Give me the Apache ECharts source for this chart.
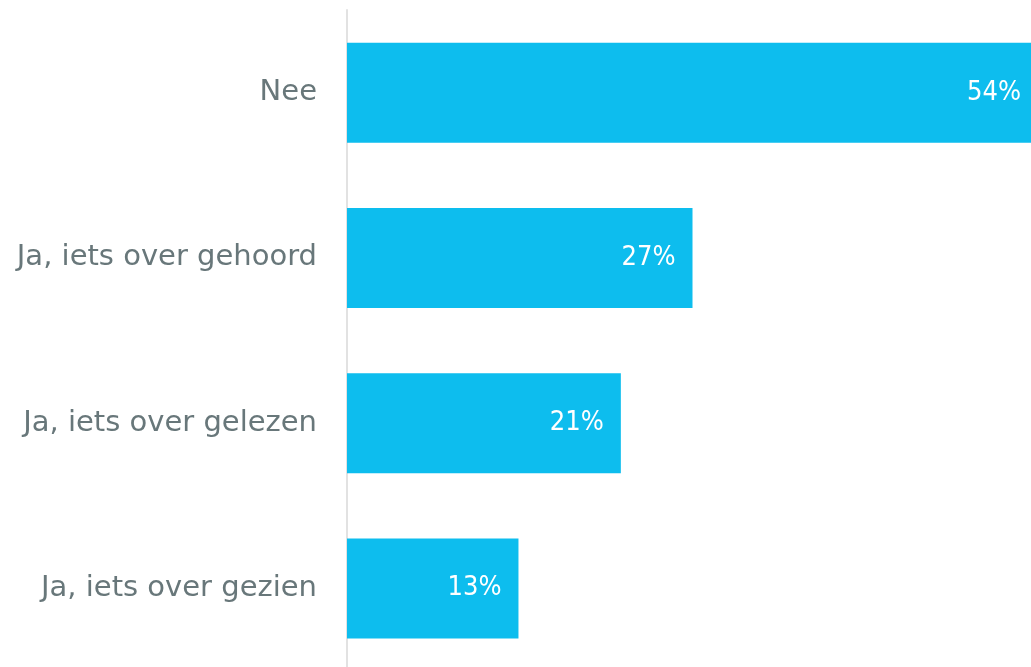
<!DOCTYPE html>
<html>
<head>
<meta charset="utf-8">
<script src="https://cdn.jsdelivr.net/npm/echarts@6/dist/echarts.min.js"></script>
<style>
html,body{margin:0;padding:0;background:#fff;overflow:hidden;}
#c{width:1038px;height:671px;}
</style>
</head>
<body>
<div id="c"></div>
<script>
const categories = ["Nee", "Ja, iets over gehoord", "Ja, iets over gelezen", "Ja, iets over gezien"];
const values = [54, 27, 21.4, 13.4];

const chart = echarts.init(document.getElementById('c'));
chart.setOption({
  animation: false,
  grid: { left: 347, right: 0, top: 10, bottom: 0 },
  xAxis: {
    type: 'value', min: 0, max: 54,
    show: false
  },
  yAxis: {
    type: 'category', data: categories, inverse: true,
    axisLine: { show: true, lineStyle: { color: '#e2e2e2', width: 2 } },
    axisTick: { show: false },
    axisLabel: { fontFamily: 'DejaVu Sans', fontSize: 29, color: '#68777a', margin: 30 }
  },
  series: [{
    type: 'bar', data: values, barWidth: 100,
    itemStyle: { color: '#0dbdee' },
    label: {
      show: true, position: 'insideRight', distance: 17,
      fontFamily: '"DejaVu Sans Condensed", sans-serif', fontSize: 27, color: '#ffffff',
      formatter: p => Math.round(p.value) + '%'
    }
  }]
});
</script>
</body>
</html>
